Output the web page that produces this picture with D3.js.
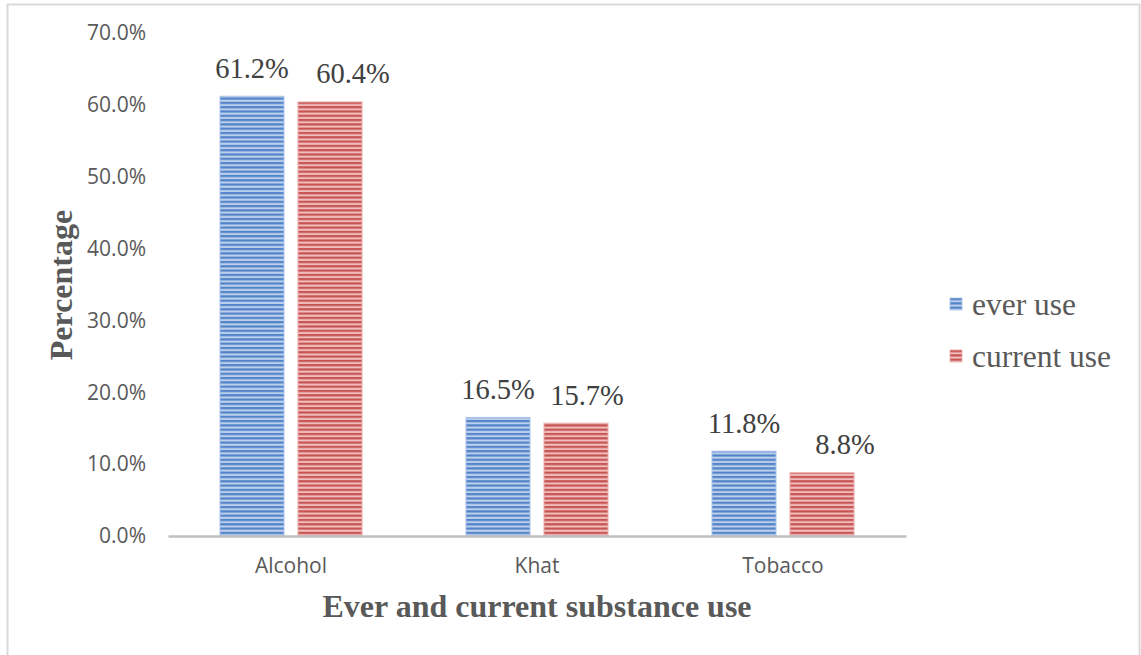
<!DOCTYPE html>
<html><head><meta charset="utf-8">
<script src="https://cdn.jsdelivr.net/npm/d3@7"></script>
<style>body{margin:0;background:#fff}svg{display:block}</style>
</head><body>
<svg id="c" width="1141" height="655"></svg>
<script>
const categories = ["Alcohol", "Khat", "Tobacco"];
const seriesNames = ["ever use", "current use"];
const everUse = [61.2, 16.5, 11.8];
const currentUse = [60.4, 15.7, 8.8];
const yTicks = [0, 10, 20, 30, 40, 50, 60, 70];

const svg = d3.select("#c");
const W = 1141, H = 655;
const m = {left: 168, right: 235, top: 33, bottom: 119};
const plotW = W - m.left - m.right, plotH = H - m.top - m.bottom;

// patterns
const defs = svg.append("defs");
function pat(id, dark, light) {
  const p = defs.append("pattern").attr("id", id).attr("patternUnits", "userSpaceOnUse")
    .attr("width", 8).attr("height", 4.3);
  p.append("rect").attr("width", 8).attr("height", 4.3).attr("fill", light);
  p.append("rect").attr("y", 0).attr("width", 8).attr("height", 2.2).attr("fill", dark);
}
pat("pBlue", "#5383c8", "#bcd0ee");
pat("pRed", "#c65452", "#f0bdbc");
const fills = ["url(#pBlue)", "url(#pRed)"];
const edge = ["#a9c2e8", "#e9abaa"];

// border
svg.append("rect").attr("x", 7.5).attr("y", 4.5).attr("width", 1132).attr("height", 700)
  .attr("fill", "none").attr("stroke", "#d9d9d9").attr("stroke-width", 2);

const g = svg.append("g").attr("transform", `translate(${m.left},${m.top})`);
const x = d3.scaleBand().domain(categories).range([0, plotW]).paddingInner(0).paddingOuter(0);
const xs = d3.scaleBand().domain(seriesNames).range([52, x.bandwidth() - 52]).paddingInner(14/78).paddingOuter(0);
const y = d3.scaleLinear().domain([0, 70]).range([plotH, 0]);

// y axis labels
const yAxis = g.append("g").call(d3.axisLeft(y).tickValues(yTicks).tickFormat(d => d.toFixed(1) + "%").tickSize(0).tickPadding(22));
yAxis.select(".domain").remove();
yAxis.selectAll("text").attr("font-family", "'Open Sans', sans-serif").attr("font-size", 21).attr("fill", "#595959");

// bars
const labelShift = [[0, 0, 0], [23, 11, 23]]; // manual label nudges (series x category)
const data = categories.map((c, i) => ({c, i, vals: [everUse[i], currentUse[i]]}));
const grp = g.selectAll(".cat").data(data).enter().append("g").attr("transform", d => `translate(${x(d.c)},0)`);
grp.selectAll("rect").data(d => d.vals.map((v, j) => ({v, j, i: d.i, s: seriesNames[j]}))).enter().append("rect")
  .attr("x", d => xs(d.s)).attr("width", xs.bandwidth())
  .attr("y", d => y(d.v)).attr("height", d => y(0) - y(d.v))
  .attr("fill", d => fills[d.j]).attr("stroke", d => edge[d.j]).attr("stroke-width", 1);
grp.selectAll("text.lab").data(d => d.vals.map((v, j) => ({v, j, i: d.i, s: seriesNames[j]}))).enter().append("text")
  .attr("x", d => xs(d.s) + xs.bandwidth() / 2 + labelShift[d.j][d.i]).attr("y", d => y(d.v) - 18.5)
  .attr("text-anchor", "middle").attr("font-family", "'Liberation Serif', 'Times New Roman', serif")
  .attr("font-size", 28.5).attr("fill", "#404040").text(d => d.v.toFixed(1) + "%");

// x axis
const xAxis = g.append("g").attr("transform", `translate(0,${plotH})`).call(d3.axisBottom(x).tickSize(0).tickPadding(22));
xAxis.select(".domain").attr("stroke", "#bfbfbf").attr("stroke-width", 2.5);
xAxis.selectAll("text").attr("font-family", "'Open Sans', sans-serif").attr("font-size", 21).attr("fill", "#595959");

// axis titles
svg.append("text").attr("x", 537).attr("y", 617).attr("text-anchor", "middle")
  .attr("font-family", "'Liberation Serif', 'Times New Roman', serif").attr("font-weight", "bold")
  .attr("font-size", 32).attr("fill", "#595959").text("Ever and current substance use");
svg.append("text").attr("transform", "translate(72,285) rotate(-90)").attr("text-anchor", "middle")
  .attr("font-family", "'Liberation Serif', 'Times New Roman', serif").attr("font-weight", "bold")
  .attr("font-size", 32).attr("fill", "#595959").text("Percentage");

// legend
const leg = svg.append("g").attr("transform", "translate(950,298)");
seriesNames.forEach((s, i) => {
  const r = leg.append("g").attr("transform", `translate(0,${i * 52})`);
  r.append("rect").attr("width", 12).attr("height", 12).attr("fill", fills[i]).attr("stroke", edge[i]).attr("stroke-width", 0.8);
  r.append("text").attr("x", 22).attr("y", 17).attr("font-family", "'Liberation Serif', 'Times New Roman', serif")
    .attr("font-size", 31.5).attr("fill", "#595959").text(s);
});
</script>
</body></html>
